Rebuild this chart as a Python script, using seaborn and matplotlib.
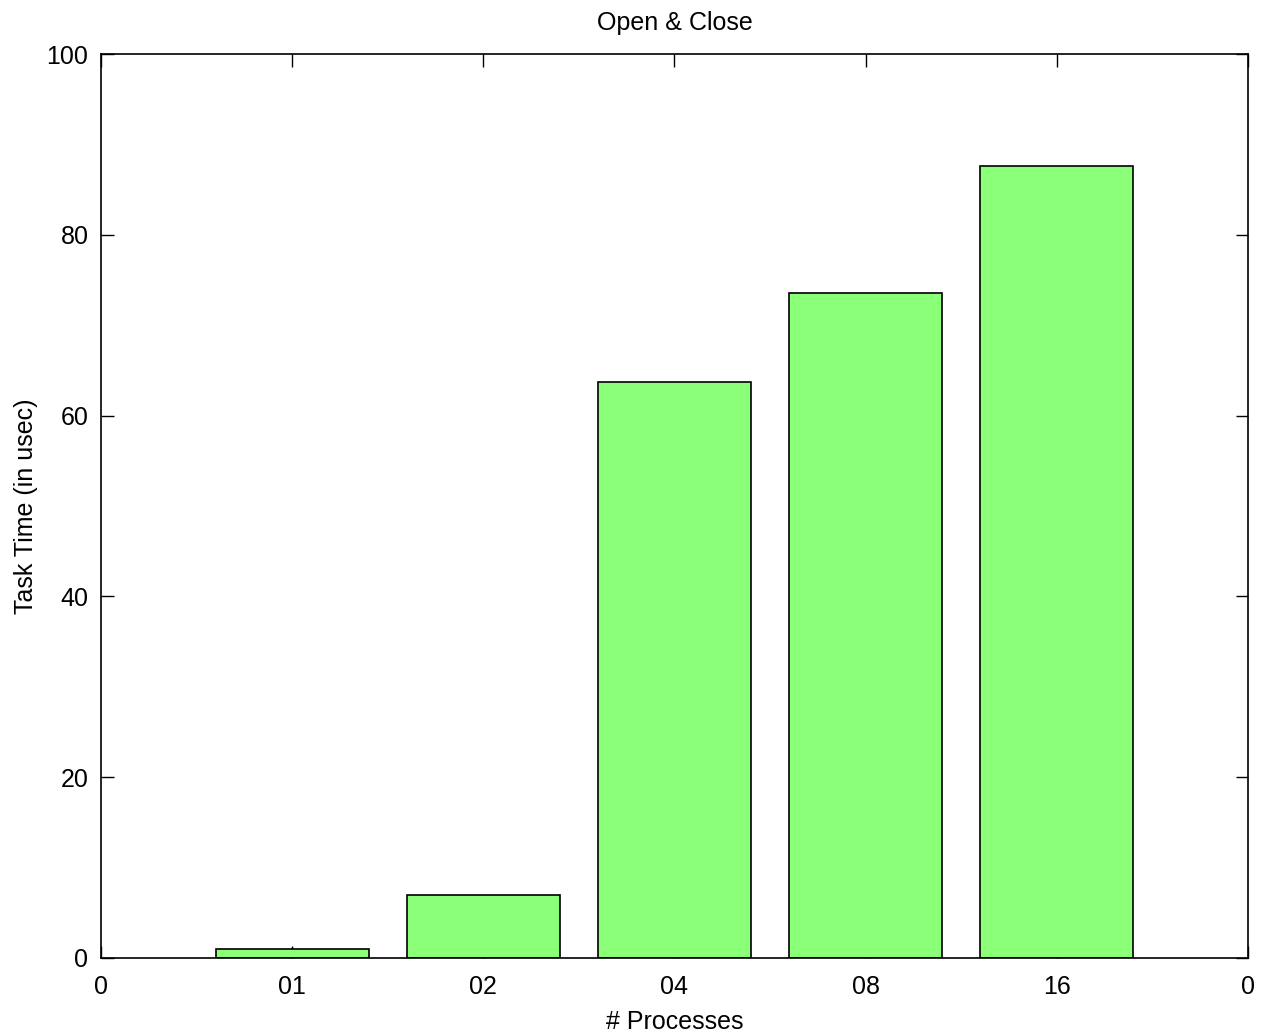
import matplotlib
matplotlib.use("Agg")
import matplotlib.pyplot as plt
import seaborn as sns
import pandas as pd

# Open/close task time per process count
processes = ["01", "02", "04", "08", "16"]
task_time = [1.0, 7.0, 63.7, 73.6, 87.6]
task_err = [0.25, 0.0, 0.0, 0.0, 0.0]
x_tick_labels = ["0", "01", "02", "04", "08", "16", "0"]
y_ticks = [0, 20, 40, 60, 80, 100]

sns.set_theme(style="white")
plt.rcParams["font.family"] = ["Liberation Sans", "DejaVu Sans"]

df = pd.DataFrame({"processes": processes, "time": task_time})

fig = plt.figure(figsize=(12.65, 10.35), dpi=100)
ax = fig.add_axes([0.0798, 0.0744, 0.9068, 0.8734])

# error ticks sit behind the bars
ax.errorbar(range(len(processes)), task_time, yerr=task_err, fmt="none",
            ecolor="black", elinewidth=1, capsize=0, zorder=1)
sns.barplot(data=df, x="processes", y="time", order=processes,
            color="#8cff78", saturation=1, width=0.8,
            edgecolor="black", linewidth=1.2, ax=ax, zorder=2)

ax.set_xlim(-1, len(processes))
ax.set_xticks(range(-1, len(processes) + 1))
ax.set_xticklabels(x_tick_labels)
ax.set_ylim(0, 100)
ax.set_yticks(y_ticks)

ax.tick_params(axis="both", which="both", direction="in", length=9, width=1,
               color="black", labelsize=18, labelcolor="black",
               top=True, right=True, bottom=True, left=True)
ax.tick_params(axis="x", pad=12)
ax.tick_params(axis="y", pad=9)
for s in ax.spines.values():
    s.set_visible(True)
    s.set_color("black")
    s.set_linewidth(1.2)

ax.set_xlabel("# Processes", fontsize=18, color="black", labelpad=8)
ax.set_ylabel("Task Time (in usec)", fontsize=18, color="black", labelpad=6)
ax.set_title("Open & Close", fontsize=18, color="black", pad=17)

fig.savefig("out.png", dpi=100, facecolor="white")
